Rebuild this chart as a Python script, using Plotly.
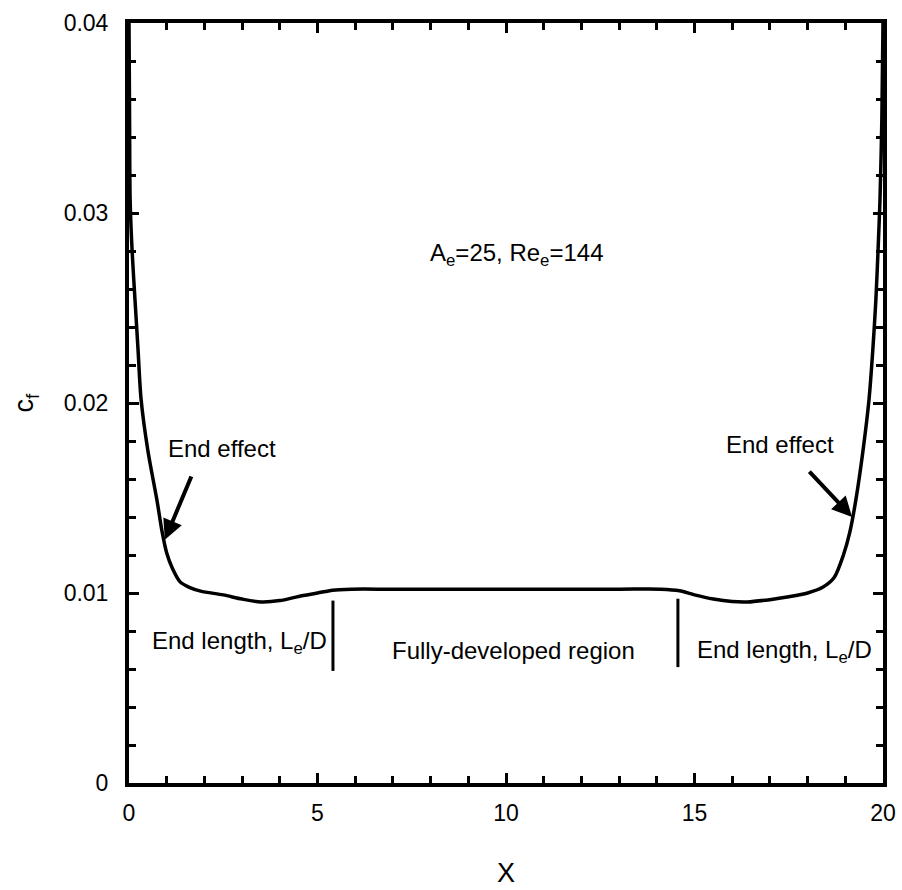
import plotly.graph_objects as go

# Skin-friction coefficient along the cylinder
x_pos = [0, 0.015, 0.03, 0.08, 0.16, 0.24, 0.32, 0.50, 0.74, 0.88, 1.0, 1.15, 1.35, 1.6, 1.9, 2.5,
         3.0, 3.5, 4.0, 4.5, 5.0, 5.4, 5.9, 7, 10, 13, 14.1, 14.6, 15.0, 15.5, 16.0, 16.4, 17.0,
         17.5, 18.0, 18.4, 18.7, 18.95, 19.12, 19.28, 19.47, 19.63, 19.73, 19.81, 19.87, 19.92,
         19.97, 20]
cf = [0.040, 0.035, 0.0307, 0.0281, 0.0254, 0.0228, 0.0202, 0.0175, 0.0149, 0.0132, 0.0121,
      0.0113, 0.0106, 0.0103, 0.0101, 0.0099,
      0.00968, 0.00953, 0.0096, 0.00982, 0.0100, 0.01015, 0.0102, 0.0102, 0.0102, 0.0102, 0.0102,
      0.01012, 0.0099, 0.00968, 0.00955, 0.00953, 0.00965,
      0.0098, 0.0100, 0.0103, 0.0108, 0.0120, 0.0132, 0.0149, 0.0175, 0.0202, 0.0228, 0.0254,
      0.0281, 0.0307, 0.035, 0.040]

# Region boundaries (end lengths)
boundary_x = [5.41, 14.56]
boundary_y0 = [0.0096, 0.0097]
boundary_y1 = [0.0059, 0.0061]

x_ticks = [0, 5, 10, 15, 20]
y_ticks = [0, 0.01, 0.02, 0.03, 0.04]
y_ticklabels = ["0", "0.01", "0.02", "0.03", "0.04"]

FONT = "Liberation Sans, Arial, sans-serif"

fig = go.Figure()
fig.add_trace(go.Scatter(x=x_pos, y=cf, mode="lines",
                         line=dict(color="black", width=3.5, shape="spline", smoothing=0.8),
                         showlegend=False, hoverinfo="skip"))
for bx, b0, b1 in zip(boundary_x, boundary_y0, boundary_y1):
    fig.add_trace(go.Scatter(x=[bx, bx], y=[b0, b1], mode="lines",
                             line=dict(color="black", width=3), showlegend=False, hoverinfo="skip"))

ann_font = dict(family=FONT, size=24, color="black")
annotations = [
    dict(x=10.29, y=0.02779, text="A<sub>e</sub>=25, Re<sub>e</sub>=144", showarrow=False, font=ann_font),
    dict(x=2.47, y=0.01758, text="End effect", showarrow=False, font=ann_font),
    dict(x=17.27, y=0.01779, text="End effect", showarrow=False, font=ann_font),
    dict(x=2.92, y=0.00742, text="End length, L<sub>e</sub>/D", showarrow=False, font=ann_font),
    dict(x=17.4, y=0.0069, text="End length, L<sub>e</sub>/D", showarrow=False, font=ann_font),
    dict(x=10.2, y=0.0070, text="Fully-developed region", showarrow=False, font=ann_font),
    dict(x=0.95, y=0.0128, ax=1.67, ay=0.01621, axref="x", ayref="y", xref="x", yref="y",
         text="", showarrow=True, arrowhead=2, arrowsize=1.0, arrowwidth=4, arrowcolor="black"),
    dict(x=19.18, y=0.0140, ax=18.01, ay=0.01647, axref="x", ayref="y", xref="x", yref="y",
         text="", showarrow=True, arrowhead=2, arrowsize=1.0, arrowwidth=4, arrowcolor="black"),
]

fig.update_layout(
    width=902, height=890,
    margin=dict(l=129, r=19, t=23, b=107),
    paper_bgcolor="white", plot_bgcolor="white",
    font=dict(family=FONT, size=23, color="black"),
    annotations=annotations,
    showlegend=False,
)
fig.update_xaxes(
    range=[0, 20], tickvals=x_ticks, ticks="inside", ticklen=10, tickwidth=3, tickcolor="black",
    minor=dict(dtick=1, ticks="inside", ticklen=7, tickwidth=3, tickcolor="black"),
    showline=True, linewidth=4, linecolor="black", mirror="ticks",
    showgrid=False, zeroline=False, tickfont=dict(size=23), ticklabelstandoff=6,
    title=dict(text="X", font=dict(size=27), standoff=40), automargin=False,
)
fig.update_yaxes(
    range=[0, 0.04], tickvals=y_ticks, ticktext=y_ticklabels, ticks="inside", ticklen=10, tickwidth=3,
    tickcolor="black",
    minor=dict(dtick=0.002, ticks="inside", ticklen=7, tickwidth=3, tickcolor="black"),
    showline=True, linewidth=4, linecolor="black", mirror="ticks",
    showgrid=False, zeroline=False, tickfont=dict(size=23), ticklabelstandoff=12,
    title=dict(text="c<sub>f</sub>", font=dict(size=27), standoff=23), automargin=False,
)

fig.write_html("out.html")
